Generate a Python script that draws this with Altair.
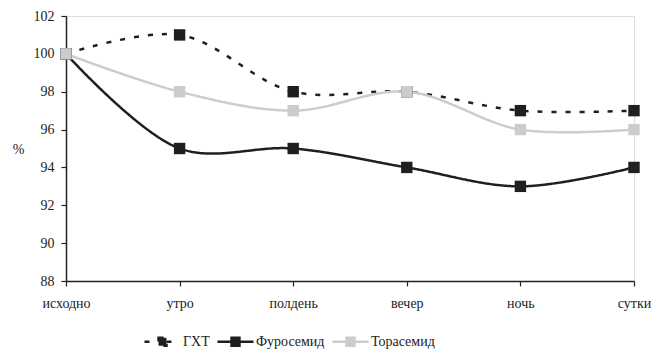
import altair as alt
import pandas as pd

# Time points of the measurement
periods = ["исходно", "утро", "полдень", "вечер", "ночь", "сутки"]

# Values in % of baseline for each drug
ght = [100, 101, 98, 98, 97, 97]
furosemide = [100, 95, 95, 94, 93, 94]
torasemide = [100, 98, 97, 98, 96, 96]

series_names = ["ГХТ", "Фуросемид", "Торасемид"]
series_values = [ght, furosemide, torasemide]

rows = []
for name, vals in zip(series_names, series_values):
    for p, v in zip(periods, vals):
        rows.append({"period": p, "value": v, "series": name})
df = pd.DataFrame(rows)

serif = "Liberation Serif"
colors = ["#1f1f1f", "#1f1f1f", "#cccccc"]
dashes = [[5, 9], [1, 0], [1, 0]]

x = alt.X(
    "period:N",
    sort=periods,
    scale=alt.Scale(type="point", padding=0),
    axis=alt.Axis(
        title=None, labelAngle=0, labelFont=serif, labelFontSize=14,
        labelColor="#222", domainColor="#222", domainWidth=1.5,
        tickColor="#222", tickSize=5, tickWidth=1.2, labelPadding=10,
        grid=False,
    ),
)
y = alt.Y(
    "value:Q",
    scale=alt.Scale(domain=[88, 102], nice=False, zero=False),
    axis=alt.Axis(
        title="%", titleAngle=0, titleFont=serif, titleFontSize=14,
        titleFontWeight="normal", titleColor="#222", titleX=-48, titleY=140,
        values=list(range(88, 103, 2)), labelFont=serif, labelFontSize=14,
        labelColor="#222", domainColor="#222", domainWidth=1.5,
        tickColor="#222", tickSize=5, tickWidth=1.2, labelPadding=7,
        grid=False,
    ),
)

# legend glyph: short line, square marker, short line
legend_symbol = "M-1,0H-0.22M0.22,0H1M-0.22,-0.22H0.22V0.22H-0.22Z"

color = alt.Color(
    "series:N",
    sort=series_names,
    scale=alt.Scale(domain=series_names, range=colors),
    legend=alt.Legend(
        title=None, orient="none", direction="horizontal",
        legendX=77, legendY=306, labelFont=serif, labelFontSize=14,
        labelColor="#222", symbolType=legend_symbol, symbolSize=1300,
        symbolStrokeWidth=2.5, labelOffset=1, columnPadding=2,
    ),
)
dash = alt.StrokeDash(
    "series:N",
    sort=series_names,
    scale=alt.Scale(domain=series_names, range=dashes),
    legend=None,
)

lines = alt.Chart(df).mark_line(interpolate="catmull-rom", strokeWidth=2.5).encode(
    x=x, y=y, color=color, strokeDash=dash
)
points = alt.Chart(df).mark_point(shape="square", filled=True, size=130, opacity=1).encode(
    x=x, y=y, color=alt.Color("series:N", sort=series_names,
                              scale=alt.Scale(domain=series_names, range=colors),
                              legend=None)
)

chart = (
    alt.layer(lines, points)
    .properties(
        width=568, height=265,
        autosize=alt.AutoSizeParams(type="none"),
        padding={"left": 66, "top": 16, "right": 30, "bottom": 72},
    )
    .configure_view(stroke="#bbbbbb", strokeWidth=1.5)
    .configure(background="white")
)

chart.save("out.html", embed_options={"renderer": "svg", "actions": False})
